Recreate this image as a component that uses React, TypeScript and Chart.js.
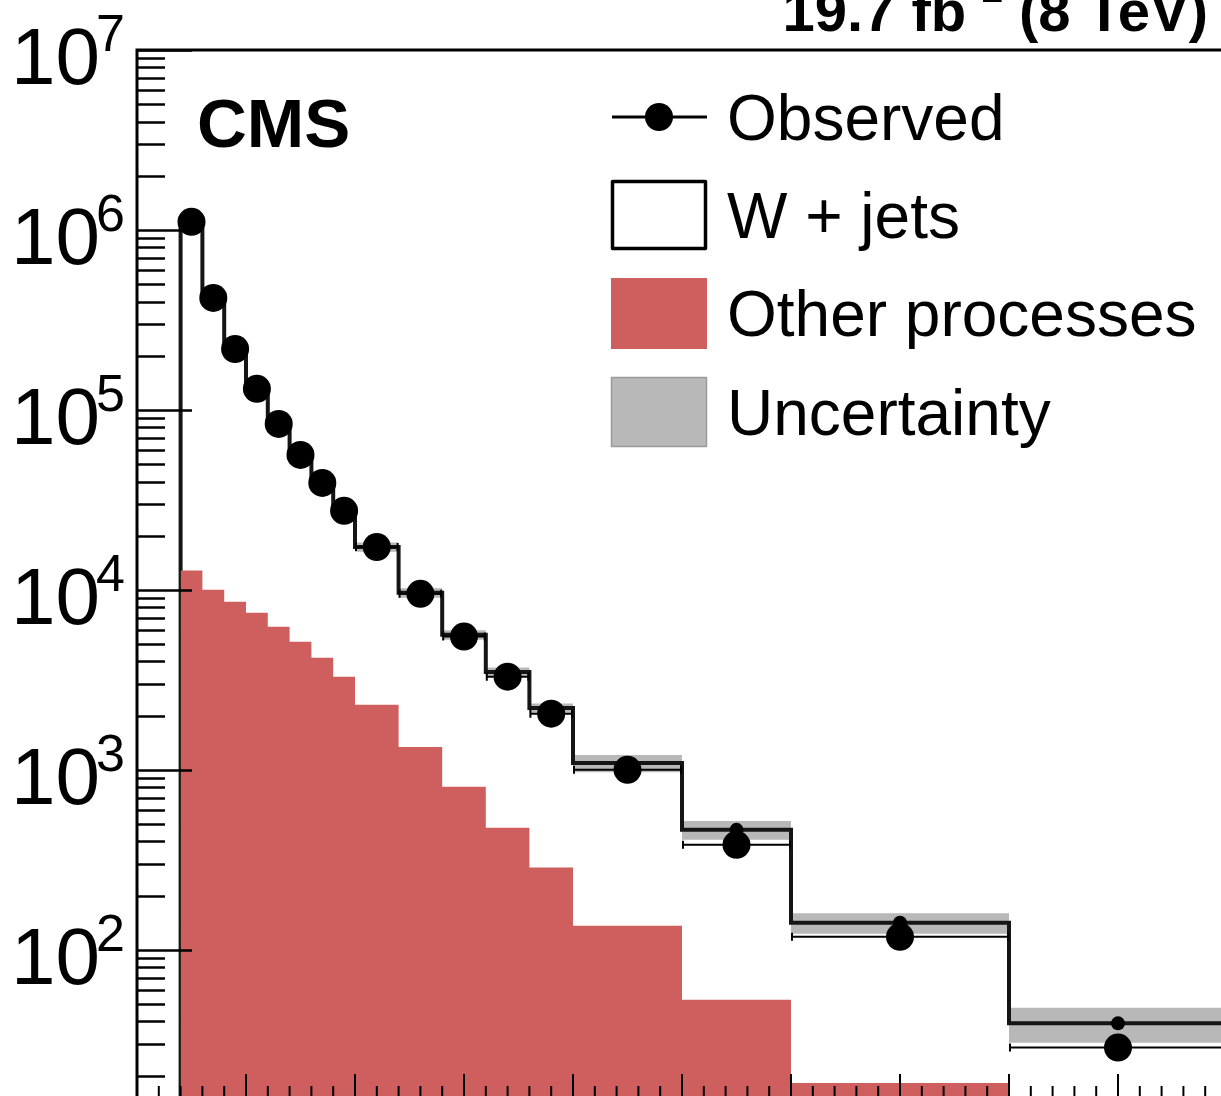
import React, { useEffect, useRef } from "react";
import { Chart, registerables } from "chart.js";

Chart.register(...registerables);

// ---------------- data ----------------
const binEdges = [40, 60, 80, 100, 120, 140, 160, 180, 200, 240, 280, 320, 360, 400, 500, 600, 800, 1000];
const observed = [1.11e6, 4.19e5, 2.18e5, 1.31e5, 8.36e4, 5.62e4, 3.93e4, 2.75e4, 1.73e4, 9.5e3, 5.5e3, 3.29e3, 2.05e3, 1.0e3, 383, 118, 28.6];
const wJets = [1.017e6, 3.98e5, 2.09e5, 1.235e5, 7.85e4, 5.11e4, 3.51e4, 2.42e4, 1.5e4, 8.28e3, 4.82e3, 3.02e3, 1.92e3, 954, 411, 123, 34];
const otherProcesses = [1.28e4, 1.0e4, 8.58e3, 7.45e3, 6.23e3, 5.14e3, 4.19e3, 3.29e3, 2.3e3, 1.34e3, 805, 476, 286, 136, 52.7, 18.2, 5];
const relUncertainty = [0.04, 0.04, 0.04, 0.04, 0.04, 0.04, 0.04, 0.04, 0.06, 0.06, 0.06, 0.06, 0.06, 0.11, 0.12, 0.13, 0.22];
const yTickExponents = [2, 3, 4, 5, 6, 7];
const legendLabels = ["Observed", "W + jets", "Other processes", "Uncertainty"];
const cmsLabel = "CMS";
const lumiMain = "19.7 fb";
const lumiSup = "-1";
const lumiTail = " (8 TeV)";

// ---------------- layout / style ----------------
const W = 1260;
const H = 1160;
const OFF_Y = 40;
const FONT = '"Liberation Sans", Arial, Helvetica, sans-serif';
const RED = "#cf5f5f";
const GRAY = "#b8b8b8";
const Y_MIN = 15;
const Y_MAX = 1e7;
const FLOOR = 1;

const nb = observed.length;
const total = wJets.map((w, i) => w + otherProcesses[i]);
const centers = observed.map((_, i) => (binEdges[i] + binEdges[i + 1]) / 2);

function stepPoints(vals: number[], closed: boolean) {
  const pts: { x: number; y: number }[] = [];
  if (closed) pts.push({ x: binEdges[0], y: FLOOR });
  vals.forEach((v, i) => pts.push({ x: binEdges[i], y: v }));
  pts.push({ x: binEdges[nb], y: vals[nb - 1] });
  if (closed) pts.push({ x: binEdges[nb], y: FLOOR });
  return pts;
}

const decorPlugin = {
  id: "decor",
  afterDatasetsDraw(chart: any) {
    const { ctx, scales } = chart;
    const xs = scales.x;
    const ys = scales.y;
    ctx.save();
    // horizontal (bin-width) error bars of the observed points
    ctx.strokeStyle = "#000";
    ctx.lineWidth = 2;
    observed.forEach((v, i) => {
      const y = ys.getPixelForValue(v);
      const x0 = xs.getPixelForValue(binEdges[i]);
      const x1 = xs.getPixelForValue(binEdges[i + 1]);
      ctx.beginPath();
      ctx.moveTo(x0, y);
      ctx.lineTo(x1, y);
      ctx.moveTo(x0 + 1, y - 4);
      ctx.lineTo(x0 + 1, y + 4);
      ctx.moveTo(x1 - 1, y - 4);
      ctx.lineTo(x1 - 1, y + 4);
      ctx.stroke();
    });
    ctx.restore();
  },
  afterDraw(chart: any) {
    const { ctx, chartArea: a, scales } = chart;
    const xs = scales.x;
    const ys = scales.y;
    ctx.save();
    ctx.strokeStyle = "#000";
    // frame
    ctx.lineWidth = 3;
    ctx.beginPath();
    ctx.moveTo(a.left, a.bottom + 2);
    ctx.lineTo(a.left, a.top);
    ctx.lineTo(a.right, a.top);
    ctx.lineTo(a.right, a.bottom);
    ctx.lineTo(a.left, a.bottom);
    ctx.stroke();

    // y ticks (inside)
    ctx.lineWidth = 2.5;
    for (let e = 1; e <= 7; e++) {
      for (let m = 1; m <= 9; m++) {
        const v = m * Math.pow(10, e);
        if (v < Y_MIN || v > Y_MAX) continue;
        const y = Math.round(ys.getPixelForValue(v)) + 0.5;
        const len = m === 1 ? 55 : 28;
        ctx.beginPath();
        ctx.moveTo(a.left, y);
        ctx.lineTo(a.left + len, y);
        ctx.stroke();
      }
    }
    // x ticks (inside, from bottom)
    ctx.lineWidth = 2;
    for (let v = 0; v <= 1000; v += 20) {
      const x = xs.getPixelForValue(v);
      const len = v % 100 === 0 ? 24 : 12;
      ctx.beginPath();
      ctx.moveTo(x, a.bottom);
      ctx.lineTo(x, a.bottom - len);
      ctx.stroke();
    }

    // y labels 10^n
    ctx.fillStyle = "#000";
    ctx.textAlign = "left";
    ctx.textBaseline = "alphabetic";
    yTickExponents.forEach((e) => {
      const y = ys.getPixelForValue(Math.pow(10, e));
      ctx.font = `80px ${FONT}`;
      const base = "10";
      ctx.fillText(base, 11, y + 34);
      const w = ctx.measureText(base).width;
      ctx.font = `52px ${FONT}`;
      ctx.fillText(String(e), 11 + w - 4, y + 1);
    });

    // CMS label
    ctx.font = `bold 69px ${FONT}`;
    ctx.fillText(cmsLabel, 197, 147 + OFF_Y);

    // luminosity label (right aligned)
    const rightX = 1208;
    const baseY = 31 + OFF_Y;
    ctx.textAlign = "right";
    ctx.font = `bold 58px ${FONT}`;
    ctx.fillText(lumiTail, rightX, baseY);
    const wTail = ctx.measureText(lumiTail).width;
    ctx.font = `bold 40px ${FONT}`;
    ctx.fillText(lumiSup, rightX - wTail, baseY - 29);
    const wSup = ctx.measureText(lumiSup).width;
    ctx.font = `bold 58px ${FONT}`;
    ctx.fillText(lumiMain, rightX - wTail - wSup - 1, baseY);

    // legend
    ctx.textAlign = "left";
    // Observed
    ctx.lineWidth = 3;
    ctx.beginPath();
    ctx.moveTo(612, 117 + OFF_Y);
    ctx.lineTo(707, 117 + OFF_Y);
    ctx.stroke();
    ctx.beginPath();
    ctx.arc(659, 117 + OFF_Y, 14, 0, Math.PI * 2);
    ctx.fill();
    // W + jets
    ctx.lineWidth = 3.5;
    ctx.fillStyle = "#fff";
    ctx.fillRect(612.5, 181.5 + OFF_Y, 93, 67);
    ctx.lineJoin = "round";
    ctx.strokeRect(612.5, 181.5 + OFF_Y, 93, 67);
    // Other processes
    ctx.fillStyle = RED;
    ctx.fillRect(611, 278 + OFF_Y, 96, 71);
    // Uncertainty
    ctx.fillStyle = GRAY;
    ctx.fillRect(611, 377 + OFF_Y, 96, 70);
    ctx.strokeStyle = "#9a9a9a";
    ctx.lineWidth = 1.5;
    ctx.strokeRect(611.5, 377.5 + OFF_Y, 95, 69);

    ctx.fillStyle = "#000";
    ctx.font = `64px ${FONT}`;
    const baselines = [140, 238, 336, 435];
    legendLabels.forEach((t, i) => ctx.fillText(t, 727, baselines[i] + OFF_Y));
    ctx.restore();
  },
};

export default function App() {
  const ref = useRef<HTMLCanvasElement>(null);
  useEffect(() => {
    document.documentElement.style.overflow = "hidden";
    document.body.style.overflow = "hidden";
    const chart = new Chart(ref.current as HTMLCanvasElement, {
      type: "line",
      data: {
        datasets: [
          {
            label: "Observed",
            data: observed.map((v, i) => ({ x: centers[i], y: v })),
            showLine: false,
            pointRadius: 14,
            pointBackgroundColor: "#000",
            pointBorderWidth: 0,
            pointBorderColor: "#000",
            order: 0,
          } as any,
          {
            label: "Prediction points",
            data: total.map((v, i) => ({ x: centers[i], y: v })),
            showLine: false,
            pointRadius: 7,
            pointBackgroundColor: "#000",
            pointBorderWidth: 0,
            pointBorderColor: "#000",
            order: 1,
          } as any,
          {
            label: "Other processes",
            data: stepPoints(otherProcesses, true),
            stepped: "before",
            borderWidth: 0,
            borderColor: "rgba(0,0,0,0)",
            backgroundColor: RED,
            fill: "start",
            pointRadius: 0,
            order: 3,
          } as any,
          {
            label: "W + jets",
            data: stepPoints(total, true),
            stepped: "before",
            borderWidth: 4,
            borderColor: "#151515",
            borderJoinStyle: "miter",
            borderCapStyle: "butt",
            fill: false,
            pointRadius: 0,
            order: 4,
          } as any,
          {
            label: "Uncertainty up",
            data: stepPoints(total.map((t, i) => t * (1 + relUncertainty[i])), false),
            stepped: "before",
            borderWidth: 0,
            borderColor: "rgba(0,0,0,0)",
            fill: false,
            pointRadius: 0,
            order: 5,
          } as any,
          {
            label: "Uncertainty",
            data: stepPoints(total.map((t, i) => t * (1 - relUncertainty[i])), false),
            stepped: "before",
            borderWidth: 0,
            borderColor: "rgba(0,0,0,0)",
            backgroundColor: GRAY,
            fill: 4,
            pointRadius: 0,
            order: 5,
          } as any,
        ],
      },
      options: {
        animation: false,
        responsive: false,
        events: [],
        layout: { padding: { left: 137, top: 90, right: W - 1227, bottom: H - 1138 } },
        plugins: {
          legend: { display: false },
          tooltip: { enabled: false },
        },
        scales: {
          x: { type: "linear", min: 0, max: 1000, display: false },
          y: { type: "logarithmic", min: Y_MIN, max: Y_MAX, display: false },
        },
      },
      plugins: [decorPlugin],
    });
    return () => chart.destroy();
  }, []);
  return (
    <div style={{ position: "fixed", left: 0, top: -OFF_Y, width: W, height: H, background: "#fff" }}>
      <canvas ref={ref} width={W} height={H} style={{ width: W, height: H, display: "block" }} />
    </div>
  );
}
